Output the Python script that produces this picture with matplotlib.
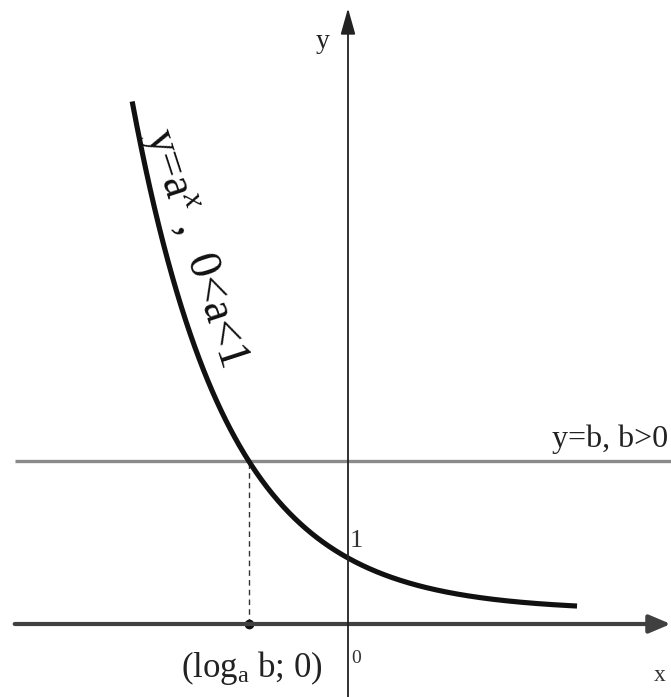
import matplotlib
matplotlib.use('Agg')
import numpy as np
import matplotlib.pyplot as plt

plt.rcParams['font.family'] = ['Liberation Serif', 'DejaVu Serif']
plt.rcParams['mathtext.fontset'] = 'custom'
plt.rcParams['mathtext.rm'] = 'Liberation Serif'
plt.rcParams['mathtext.it'] = 'Liberation Serif:italic'

# curve y = c + (1 - c) * a**x
base_a = 0.5
shift_c = 0.2
x_start, x_end = -3.27, 3.47
x_axis_range = (-5.05, 4.89)
y_axis_range = (-1.2, 9.33)

x_int = -1.5
b_val = shift_c + (1 - shift_c) * base_a ** x_int

xs = np.linspace(x_start, x_end, 400)
ys = shift_c + (1 - shift_c) * base_a ** xs

fig = plt.figure(figsize=(6.71, 6.97), dpi=100)
ax = fig.add_axes([0, 0, 1, 1])
ax.set_xlim(-348 / 66, 323 / 66)
ax.set_ylim(-73 / 66, 624 / 66)
ax.set_axis_off()

# horizontal line y=b
ax.plot([x_axis_range[0], x_axis_range[1] + 0.3], [b_val, b_val], color='#8a8a8a', lw=2.4, solid_capstyle='butt')

# axes with arrows
ax.annotate('', xy=(x_axis_range[1], 0), xytext=(x_axis_range[0], 0), annotation_clip=False,
            arrowprops=dict(arrowstyle='-|>,head_length=1.3,head_width=0.55', color='#404040', lw=3.0,
                            shrinkA=0, shrinkB=0))
ax.annotate('', xy=(0, y_axis_range[1]), xytext=(0, y_axis_range[0]), annotation_clip=False,
            arrowprops=dict(arrowstyle='-|>,head_length=1.6,head_width=0.45', color='#222222', lw=1.3,
                            shrinkA=0, shrinkB=0))

# dashed projection and point
ax.plot([x_int, x_int], [0, b_val], color='#333333', lw=1.0, ls=(0, (4, 3)))
ax.plot([x_int], [0], 'o', color='#111111', ms=6)

# the curve
ax.plot(xs, ys, color='#111111', lw=3.7, solid_capstyle='butt')

# texts
ax.text(-0.38, 8.82, 'y', fontsize=20, ha='center', va='center', color='#222222')
ax.text(4.72, -0.78, 'x', fontsize=17, ha='center', va='center', color='#333333')
ax.text(0.12, -0.52, '0', fontsize=14, ha='center', va='center', color='#333333')
ax.text(0.12, 1.26, '1', fontsize=19, ha='center', va='center', color='#333333')
ax.text(4.85, 2.8, 'y=b, b>0', fontsize=23, ha='right', va='center', color='#222222')
ax.text(-1.45, -0.66, r'(log$_{\mathrm{a}}$ b; 0)', fontsize=25, ha='center', va='center', color='#222222')
ax.text(-2.33, 5.7, r'y=a$^{x}$ ,  0<a<1', fontsize=33, ha='center', va='center',
        rotation=-72, rotation_mode='anchor', color='#111111')

fig.savefig('out.png', dpi=100, facecolor='white')
